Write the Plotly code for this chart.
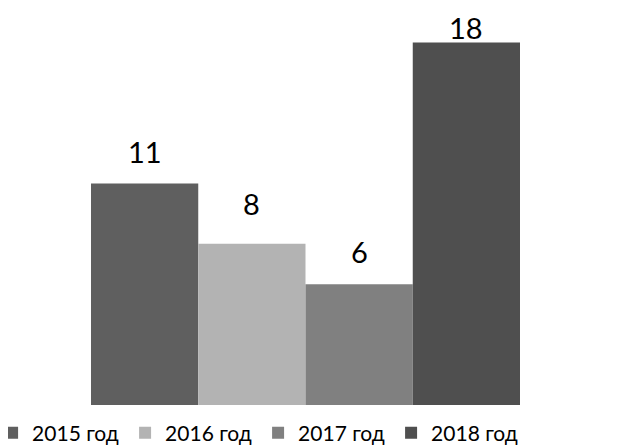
import plotly.graph_objects as go

years = ["2015 год", "2016 год", "2017 год", "2018 год"]
values = [11, 8, 6, 18]
colors = ["#5f5f5f", "#b3b3b3", "#808080", "#4f4f4f"]
label_lift = [32, 40, 33, 15]  # px offset of each value label above its bar

FONT = "Lato"
W, H = 612, 440  # page body margin of 8px offsets the figure

fig = go.Figure()
for i, (name, v, c) in enumerate(zip(years, values, colors)):
    fig.add_trace(go.Bar(
        x=[i], y=[v], width=1, name=name,
        marker=dict(color=c, line=dict(width=0)),
    ))
    fig.add_annotation(
        x=i, y=v, text=str(v), showarrow=False,
        xanchor="center", yanchor="middle", yshift=label_lift[i],
        font=dict(size=29, color="#000000", family=FONT),
    )

fig.update_layout(
    width=W, height=H,
    margin=dict(l=0, r=0, t=0, b=43, autoexpand=False),
    plot_bgcolor="white", paper_bgcolor="white",
    barmode="overlay",
    showlegend=True,
    legend=dict(orientation="h", xref="paper", yref="paper",
                x=-0.026, xanchor="left", y=-0.0705, yanchor="middle",
                font=dict(size=21, color="#000000", family=FONT),
                itemwidth=30, traceorder="normal",
                entrywidth=88, entrywidthmode="pixels",
                bgcolor="rgba(0,0,0,0)"),
    xaxis=dict(range=[-1.2739, 4.4324], visible=False, fixedrange=True),
    yaxis=dict(range=[0, 19.71], visible=False, fixedrange=True),
)
fig.write_html("out.html")
